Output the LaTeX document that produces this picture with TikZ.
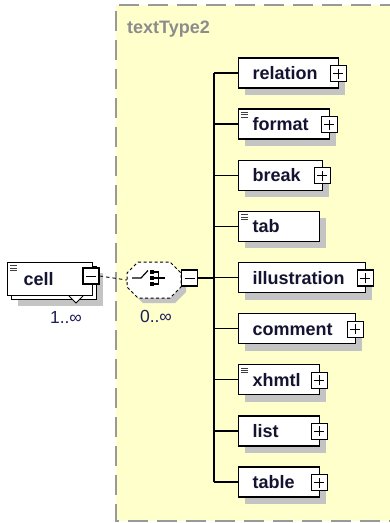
\documentclass[tikz,border=0pt]{standalone}
\usepackage{fontspec}
\setmainfont{Liberation Sans}
\usetikzlibrary{shadows}
\definecolor{ybg}{HTML}{FFFFCC}
\definecolor{shd}{HTML}{C4C4C4}
\definecolor{txt}{HTML}{141432}
\definecolor{ttl}{HTML}{8C8C8C}
\definecolor{mult}{HTML}{1E1E5A}
\tikzset{
  x=1pt, y=-1pt,
  elem/.style={draw=black, line width=1.3pt, fill=white, rectangle, anchor=west,
    minimum height=30pt, inner xsep=14pt, inner ysep=0pt, align=left,
    text height=13pt, text depth=0pt, text=txt,
    font=\bfseries\fontsize{18}{20}\selectfont,
    drop shadow={shadow xshift=6pt, shadow yshift=-7pt, fill=shd, opacity=1}},
  docicon/.style={path picture={
    \foreach \d in {3.2,5.6,8}{
      \draw[line width=0.9pt, black!75] ([xshift=2.5pt,yshift=-\d pt]path picture bounding box.north west) -- ++(7pt,0pt);}}},
  pm/.style={draw=black, line width=1.1pt, fill=white, minimum size=16pt, inner sep=0pt},
  plusbox/.style={pm, path picture={
    \draw[line width=1pt] ([xshift=-5pt]path picture bounding box.center) -- ([xshift=5pt]path picture bounding box.center);
    \draw[line width=1pt] ([yshift=-5pt]path picture bounding box.center) -- ([yshift=5pt]path picture bounding box.center);}},
  minusbox/.style={pm, path picture={
    \draw[line width=1pt] ([xshift=-5pt]path picture bounding box.center) -- ([xshift=5pt]path picture bounding box.center);}},
  conn/.style={line width=1.3pt, black},
  optconn/.style={line width=1pt, black!85, dash pattern=on 3.5pt off 3pt},
  multlabel/.style={font=\fontsize{17.5}{20}\selectfont, text=mult, inner sep=0pt},
}
\begin{document}
\begin{tikzpicture}
\useasboundingbox (0,0) rectangle (390,523);
\fill[white] (0,0) rectangle (390,523);
% complex type area
\fill[ybg] (116,5) rectangle (400,521);
\draw[line width=1.6pt, black!40, dash pattern=on 20pt off 9pt] (400,5) -- (116,5) -- (116,521) -- (400,521);
\node[anchor=base west, inner sep=0pt, text=ttl, font=\bfseries\fontsize{18}{20}\selectfont] (title) at (127,33) {textType2};

% child elements
\node[elem, minimum width=100pt, text width=72pt] (relation) at (238,73) {relation};
\node[elem, docicon, minimum width=91pt, text width=63pt] (format) at (238,124.1) {format};
\node[elem, minimum width=84pt, text width=56pt] (break) at (238,175.2) {break};
\node[elem, docicon, minimum width=81pt, text width=53pt] (tab) at (238,226.4) {tab};
\node[elem, minimum width=127pt, text width=99pt] (illustration) at (238,277.5) {illustration};
\node[elem, minimum width=117pt, text width=89pt] (comment) at (238,328.6) {comment};
\node[elem, docicon, minimum width=81pt, text width=53pt] (xhmtl) at (238,379.8) {xhmtl};
\node[elem, minimum width=81pt, text width=53pt] (list) at (238,430.9) {list};
\node[elem, minimum width=81pt, text width=53pt] (table) at (238,482) {table};

\foreach \n in {relation,format,break,illustration,comment,xhmtl,list,table}{
  \node[plusbox] (\n-p) at ([xshift=-1pt,yshift=-0.5pt]\n.east) {};
}

% trunk
\coordinate (trunk) at (214,278);
\draw[conn] (trunk |- relation.west) -- (trunk |- table.west);
\foreach \n in {relation,format,break,tab,illustration,comment,xhmtl,list,table}{
  \draw[conn] (trunk |- \n.west) -- (\n.west);
}

% choice compositor
\fill[shd] (143,267) -- (175,267) -- (186,278) -- (186,292) -- (175,303) -- (143,303) -- (132,292) -- (132,278) -- cycle;
\node[minimum width=54pt, minimum height=36pt, inner sep=0pt] (choice) at (154,280) {};
\filldraw[fill=white, draw=black, line width=1pt, dash pattern=on 3pt off 2.5pt]
  (138,262) -- (170,262) -- (181,273) -- (181,287) -- (170,298) -- (138,298) -- (127,287) -- (127,273) -- cycle;
\draw[line width=1.2pt] (132,278) -- (141,278) -- (148,270.5);
\foreach \yy in {272,278,284}{
  \fill (149.5,\yy-2) rectangle (153.5,\yy+2);
  \draw[line width=1.1pt] (153.5,\yy) -- (158.5,\yy);
}
\draw[line width=1.1pt] (158.5,271.5) -- (158.5,284.5);
\draw[line width=1.1pt] (158.5,278) -- (165,278);
\node[minusbox] (choice-m) at (189.5,278) {};
\draw[conn] (choice-m.east) -- (trunk);
\node[multlabel] (choice-mult) at (156,316) {0..∞};

% cell element (repeated)
\node[draw=black, line width=1.3pt, fill=white, rectangle, anchor=north west,
  minimum width=85pt, minimum height=33pt, inner sep=0pt,
  drop shadow={shadow xshift=6pt, shadow yshift=-6pt, fill=shd, opacity=1}] (cellback) at (11,266) {};
\node[draw=black, line width=1.3pt, fill=white, rectangle, anchor=north west, docicon,
  minimum width=85pt, minimum height=33pt, inner xsep=16pt, inner ysep=0pt,
  text width=53pt, align=left, text height=13pt, text depth=0pt, text=txt,
  font=\bfseries\fontsize{18}{20}\selectfont] (cell) at (7,262) {cell};
\draw[line width=1pt, fill=white] (69,296) -- (76,303) -- (83,296);
\node[minusbox] (cell-m) at (91,276) {};
\draw[optconn] (cell-m.east) -- (choice.west);
\node[multlabel] (cell-mult) at (66,317) {1..∞};
\end{tikzpicture}
\end{document}
